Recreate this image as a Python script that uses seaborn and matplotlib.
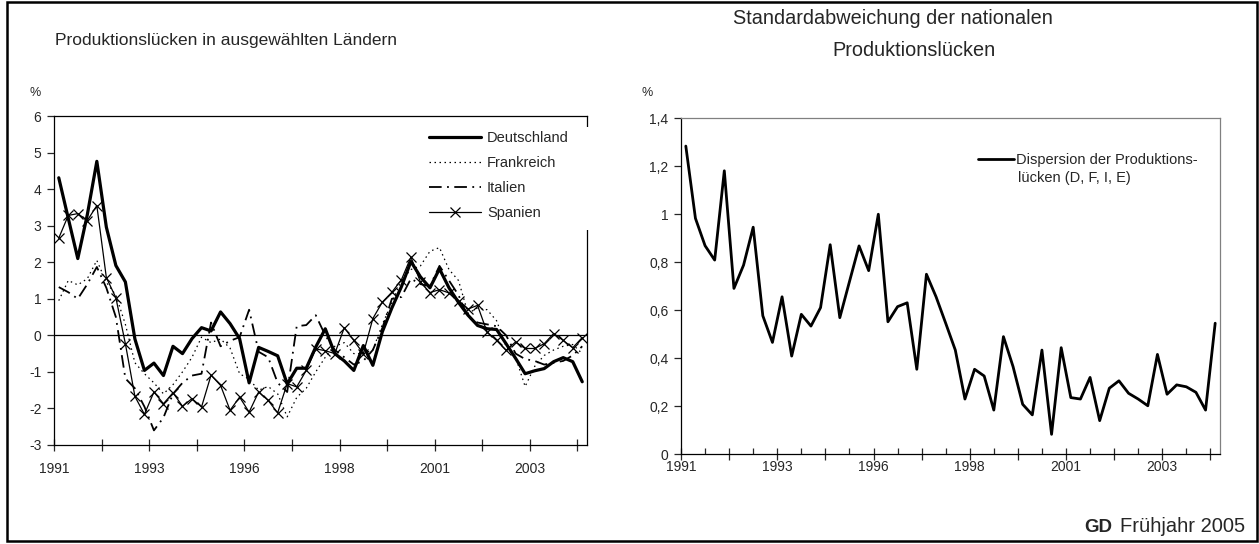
import numpy as np
import pandas as pd
import matplotlib
matplotlib.use("Agg")
import matplotlib.pyplot as plt
from matplotlib.patches import Rectangle
from matplotlib.ticker import FixedLocator
import seaborn as sns

# ====== Daten: Quartale 1991Q1 - 2004Q4 ======
jahre = [1991 + k // 4 for k in range(56)]

deutschland = [4.31, 3.2, 2.1, 3.3, 4.76, 2.96, 1.91, 1.46, -0.1, -0.96,
               -0.76, -1.1, -0.3, -0.5, -0.09, 0.21, 0.12, 0.64, 0.32, -0.09,
               -1.3, -0.33, -0.44, -0.56, -1.33, -0.9, -0.9, -0.32, 0.18, -0.5,
               -0.7, -0.96, -0.28, -0.82, 0.1, 0.75, 1.33, 2.02, 1.6, 1.3,
               1.82, 1.3, 0.9, 0.55, 0.27, 0.18, 0.16, -0.23, -0.63, -1.05,
               -0.97, -0.91, -0.72, -0.61, -0.72, -1.27]
frankreich = [0.95, 1.5, 1.38, 1.55, 2.05, 1.45, 1.1, 0.3, -0.75, -1.05,
              -1.3, -1.6, -1.35, -1.0, -0.6, -0.05, -0.2, -0.1, -0.35, -1.05,
              -1.2, -1.5, -1.4, -1.6, -2.23, -1.7, -1.45, -1.0, -0.6, -0.3,
              -0.2, -0.5, -0.5, -0.4, 0.3, 0.9, 1.5, 1.8, 1.9, 2.3,
              2.4, 1.8, 1.5, 0.6, 0.75, 0.7, 0.4, -0.3, -0.6, -1.4,
              -0.85, -0.55, -0.4, -0.3, -0.25, -0.5]
italien = [1.32, 1.18, 1.0, 1.4, 1.87, 1.3, 0.5, -1.18, -1.45, -1.95,
           -2.6, -2.25, -1.6, -1.3, -1.1, -1.05, 0.35, -0.3, -0.15, -0.05,
           0.7, -0.45, -0.6, -1.3, -1.55, 0.25, 0.28, 0.55, 0.0, -0.4,
           -0.6, -0.8, -0.7, -0.4, 0.2, 1.0, 1.05, 1.55, 1.4, 1.35,
           1.9, 1.5, 1.1, 0.5, 0.35, 0.3, 0.25, 0.0, -0.5, -0.65,
           -0.7, -0.8, -0.75, -0.7, -0.55, -0.3]
spanien = [2.66, 3.28, 3.33, 3.14, 3.55, 1.58, 1.03, -0.23, -1.67, -2.16,
           -1.55, -1.87, -1.57, -1.94, -1.73, -1.96, -1.09, -1.37, -2.05, -1.69,
           -2.1, -1.55, -1.78, -2.12, -1.32, -1.41, -0.96, -0.37, -0.42, -0.5,
           0.21, -0.14, -0.5, 0.46, 0.91, 1.18, 1.52, 2.14, 1.46, 1.17,
           1.25, 1.16, 0.95, 0.72, 0.82, 0.09, -0.14, -0.41, -0.18, -0.36,
           -0.36, -0.23, 0.05, -0.14, -0.34, -0.06]
dispersion = [1.283, 0.982, 0.868, 0.808, 1.18, 0.69, 0.787, 0.945, 0.576, 0.465,
              0.655, 0.408, 0.582, 0.533, 0.61, 0.872, 0.568, 0.718, 0.867, 0.764,
              0.999, 0.551, 0.614, 0.63, 0.353, 0.749, 0.655, 0.545, 0.433, 0.229,
              0.353, 0.325, 0.183, 0.489, 0.364, 0.207, 0.163, 0.433, 0.082, 0.443,
              0.235, 0.229, 0.319, 0.139, 0.274, 0.305, 0.253, 0.229, 0.201, 0.415,
              0.249, 0.288, 0.28, 0.257, 0.183, 0.545]

df = pd.DataFrame({
    "pos": np.arange(len(jahre)) + 0.5,
    "Deutschland": deutschland,
    "Frankreich": frankreich,
    "Italien": italien,
    "Spanien": spanien,
    "Dispersion": dispersion,
})

sns.set_style("white")
plt.rcParams["font.family"] = ["Liberation Sans", "DejaVu Sans"]

fig = plt.figure(figsize=(12.59, 5.44), dpi=100)
W, H = 1259, 544


def px_axes(l, t, r, b):
    return fig.add_axes([l / W, 1 - b / H, (r - l) / W, (b - t) / H])


ax1 = px_axes(54, 116, 587, 445)
ax2 = px_axes(681, 118, 1220, 454)

# ====== linkes Diagramm ======
ax1.axhline(0, color="black", lw=0.9, zorder=1)
sns.lineplot(data=df, x="pos", y="Deutschland", ax=ax1, color="black", lw=2.3,
             label="Deutschland")
sns.lineplot(data=df, x="pos", y="Frankreich", ax=ax1, color="black", lw=0.9,
             linestyle=(0, (1.2, 2.8)), label="Frankreich")
sns.lineplot(data=df, x="pos", y="Italien", ax=ax1, color="black", lw=1.3,
             linestyle=(0, (7, 3, 1, 3)), label="Italien")
sns.lineplot(data=df, x="pos", y="Spanien", ax=ax1, color="black", lw=0.9,
             marker="x", markersize=7, markeredgewidth=0.9,
             markeredgecolor="black", label="Spanien")

ax1.set_xlim(0, 56)
ax1.set_ylim(-3, 6)
ax1.set_yticks(range(-3, 7))
ax1.set_yticklabels([str(v) for v in range(-3, 7)])

# weisser Legendenhintergrund, der den rechten Rahmen unterbricht
ax1.add_patch(Rectangle((0.69, 0.653), 0.33, 0.314, transform=ax1.transAxes,
                        facecolor="white", edgecolor="none", zorder=4,
                        clip_on=False))
ax1.legend(loc="upper left", bbox_to_anchor=(0.703, 0.953), frameon=False,
           fontsize=10.5, handlelength=3.6, handletextpad=0.4,
           labelspacing=0.75, borderpad=0, borderaxespad=0)

# ====== rechtes Diagramm ======
sns.lineplot(data=df, x="pos", y="Dispersion", ax=ax2, color="black", lw=2.0,
             label="Dispersion der Produktions-")
ax2.set_xlim(0, 56)
ax2.set_ylim(0, 1.4)
yt = [0, 0.2, 0.4, 0.6, 0.8, 1.0, 1.2, 1.4]
ax2.set_yticks(yt)
ax2.set_yticklabels([("%g" % v).replace(".", ",") for v in yt])
ax2.xaxis.set_minor_locator(FixedLocator(np.arange(2.5, 56, 5)))
ax2.legend(loc="upper left", bbox_to_anchor=(0.551, 0.897), frameon=False,
           fontsize=10.5, handlelength=2.5, handletextpad=0.1,
           borderaxespad=0, borderpad=0)
ax2.text(0.625, 0.821, "lücken (D, F, I, E)", transform=ax2.transAxes,
         fontsize=10.5, ha="left", va="center")

# ====== Achsen gemeinsam ======
major = np.arange(0, 56, 5)
for ax in (ax1, ax2):
    ax.set_xticks(major)
    ax.set_xticklabels([str(jahre[t]) if t % 10 == 0 else "" for t in major])
    ax.set_xlabel("")
    ax.set_ylabel("")
    ax.tick_params(axis="x", which="major", direction="inout", length=9, width=0.9,
                   labelsize=10, bottom=True)
    ax.tick_params(axis="x", which="minor", direction="in", length=4, width=0.9,
                   bottom=True)
    ax.tick_params(axis="y", direction="out", length=5, width=0.9, labelsize=10,
                   pad=4, left=True)
    for s in ax.spines.values():
        s.set_color("black")
        s.set_linewidth(0.9)

ax1.tick_params(axis="x", which="major", pad=8)
ax2.tick_params(axis="x", which="major", pad=0)
ax2.spines["top"].set_color("#808080")
ax2.spines["right"].set_color("#808080")

# ====== Titel & Texte ======
fig.text(226 / W, 1 - 40 / H, "Produktionslücken in ausgewählten Ländern",
         ha="center", va="center", fontsize=12.5)
fig.text(893 / W, 1 - 19 / H, "Standardabweichung der nationalen",
         ha="center", va="center", fontsize=14.3)
fig.text(914 / W, 1 - 50 / H, "Produktionslücken",
         ha="center", va="center", fontsize=14.3)
fig.text(35 / W, 1 - 93 / H, "%", ha="center", va="center", fontsize=9)
fig.text(647 / W, 1 - 93 / H, "%", ha="center", va="center", fontsize=9)
fig.text(1245 / W, 1 - 527 / H, "Frühjahr 2005", ha="right", va="center",
         fontsize=14.5)
fig.text(1112 / W, 1 - 527 / H, "GD", ha="right", va="center", fontsize=13.5,
         fontweight="bold")

fig.patches.append(Rectangle((7 / W, 3 / H), 1250 / W, 539 / H, fill=False,
                             lw=1.8, edgecolor="black", transform=fig.transFigure))

fig.savefig("out.png", dpi=100)
